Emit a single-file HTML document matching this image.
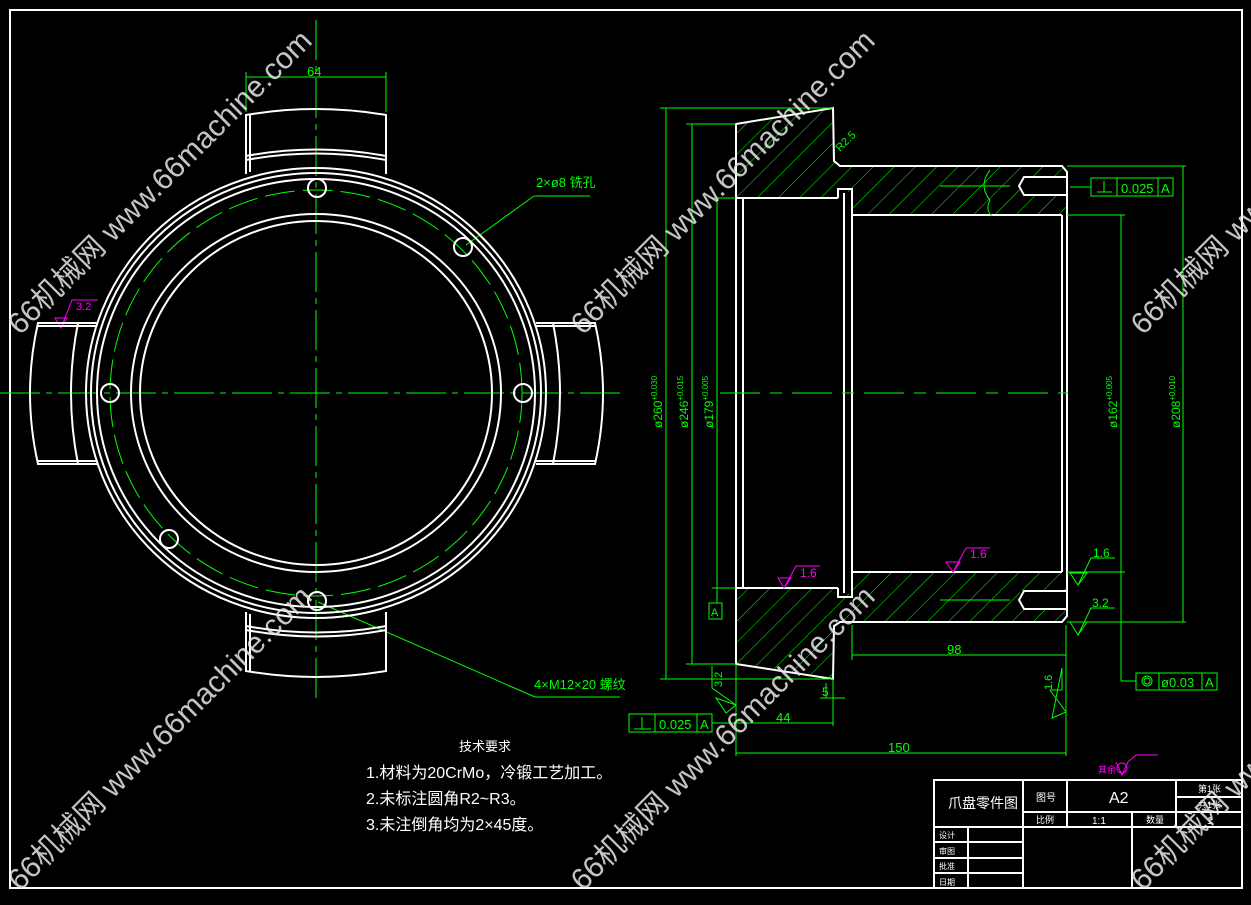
<!DOCTYPE html>
<html><head><meta charset="utf-8"><style>
html,body{margin:0;padding:0;background:#000;width:1251px;height:905px;overflow:hidden}
svg{display:block}
text{font-family:"Liberation Sans","Noto Sans CJK SC",sans-serif}
</style></head><body>
<svg width="1251" height="905" viewBox="0 0 1251 905" xmlns="http://www.w3.org/2000/svg">
<defs>
<pattern id="h" patternUnits="userSpaceOnUse" width="15" height="15" patternTransform="rotate(45)">
<line x1="0" y1="0" x2="0" y2="15" stroke="#0f0" stroke-width="1"/>
</pattern>
</defs>
<rect width="1251" height="905" fill="#000"/>
<rect x="10" y="10" width="1232" height="878" fill="none" stroke="#fff" stroke-width="2"/>

<!-- ===== LEFT VIEW ===== -->
<g stroke="#0f0" stroke-width="1" fill="none">
<line x1="0" y1="393" x2="620" y2="393" stroke-dasharray="40,6,6,6"/>
<line x1="316" y1="20" x2="316" y2="700" stroke-dasharray="40,6,6,6"/>
<ellipse cx="316" cy="393" rx="206" ry="203" stroke-dasharray="30,8"/>
<line x1="246" y1="72" x2="246" y2="112"/><line x1="386" y1="72" x2="386" y2="112"/>
<line x1="246" y1="77" x2="386" y2="77"/>
<line x1="466" y1="245" x2="534" y2="196"/><line x1="534" y1="196" x2="590" y2="196"/>
<line x1="318" y1="602" x2="535" y2="697"/><line x1="535" y1="697" x2="620" y2="697"/>
</g>
<text x="307" y="76" fill="#0f0" font-size="13">64</text>
<text x="536" y="187" fill="#0f0" font-size="13">2×ø8 铣孔</text>
<text x="534" y="689" fill="#0f0" font-size="13">4×M12×20 螺纹</text>
<g stroke="#f0f" stroke-width="1" fill="none"><path d="M55,318 L67,318 L61,328 Z"/><path d="M61,328 L72,300 L98,300"/></g>
<text x="76" y="310" fill="#f0f" font-size="11">3.2</text>

<g stroke="#fff" stroke-width="2" fill="none">
<ellipse cx="316" cy="393" rx="230" ry="225"/>
<ellipse cx="316" cy="393" rx="225" ry="220"/>
<ellipse cx="316" cy="393" rx="219" ry="214"/>
<ellipse cx="316" cy="393" rx="185" ry="179"/>
<ellipse cx="316" cy="393" rx="176" ry="172"/>
<circle cx="317" cy="188" r="9"/><circle cx="523" cy="393" r="9"/><circle cx="110" cy="393" r="9"/>
<circle cx="317" cy="601" r="9"/><circle cx="463" cy="247" r="9"/><circle cx="169" cy="539" r="9"/>
<path d="M246,174 L246,115 Q316,103 386,115 L386,174"/>
<line x1="250" y1="115" x2="250" y2="172"/>
<path d="M246,156 Q316,143 386,156"/><path d="M246,160 Q316,147 386,160"/>
<path d="M246,612 L246,671 Q316,683 386,671 L386,612"/>
<line x1="250" y1="614" x2="250" y2="671"/>
<path d="M246,630 Q316,643 386,630"/><path d="M246,626 Q316,639 386,626"/>
<path d="M97,323 L38,323 Q22,393 38,464 L97,464"/>
<line x1="38" y1="326" x2="97" y2="326"/><line x1="38" y1="461" x2="97" y2="461"/>
<path d="M78,323 Q64,393 78,464"/>
<path d="M536,323 L595,323 Q611,393 595,464 L536,464"/>
<line x1="536" y1="326" x2="595" y2="326"/><line x1="536" y1="461" x2="595" y2="461"/>
<path d="M553,323 Q567,393 553,464"/>
</g>

<!-- ===== SECTION VIEW ===== -->
<g fill="url(#h)">
<path d="M736,124 L833,108 L835,163 L840,166 L1062,166 L1067,172 L1067,215 L852,215 L852,193 L838,189 L838,198 L736,198 Z"/>
<path d="M736,588 L838,588 L838,597 L852,593 L852,572 L1067,572 L1067,616 L1062,622 L840,622 L835,624 L833,679 L736,664 Z"/>
</g>
<rect x="1020" y="177" width="47" height="18" fill="#000"/><rect x="1020" y="591" width="47" height="18" fill="#000"/>
<g stroke="#fff" stroke-width="2" fill="none">
<path d="M736,124 L833,108 L834,161 L840,166 L1062,166 L1067,172 L1067,616 L1062,622 L840,622 L834,626 L833,679 L736,664 Z"/>
<line x1="736" y1="198" x2="838" y2="198"/><line x1="736" y1="588" x2="838" y2="588"/>
<line x1="743" y1="198" x2="743" y2="588"/>
<path d="M838,198 L838,189 L852,189 L852,597 L838,597 L838,588"/>
<line x1="844" y1="193" x2="844" y2="593"/>
<line x1="852" y1="215" x2="1062" y2="215"/><line x1="852" y1="572" x2="1062" y2="572"/>
<line x1="1062" y1="215" x2="1062" y2="572"/>
<path d="M1067,177 L1024,177 L1019,186 L1024,195 L1067,195"/>
<path d="M1067,591 L1024,591 L1019,600 L1024,609 L1067,609"/>
</g>
<g stroke="#0f0" stroke-width="1" fill="none">
<line x1="720" y1="393" x2="1068" y2="393" stroke-dasharray="40,10,12,10"/>
<line x1="940" y1="186" x2="1010" y2="186"/><line x1="940" y1="600" x2="1010" y2="600"/>
<path d="M990,170 Q978,186 990,200 Q985,210 992,216"/>
<line x1="666" y1="108" x2="666" y2="679"/><line x1="660" y1="108" x2="833" y2="108"/><line x1="660" y1="679" x2="833" y2="679"/>
<line x1="692" y1="124" x2="692" y2="664"/><line x1="686" y1="124" x2="736" y2="124"/><line x1="686" y1="664" x2="736" y2="664"/>
<line x1="717" y1="198" x2="717" y2="588"/><line x1="712" y1="198" x2="736" y2="198"/><line x1="712" y1="588" x2="736" y2="588"/>
<line x1="717" y1="588" x2="717" y2="603"/><rect x="709" y="603" width="13" height="16"/>
<line x1="1121" y1="215" x2="1121" y2="572"/><line x1="1067" y1="215" x2="1125" y2="215"/><line x1="1067" y1="572" x2="1125" y2="572"/>
<line x1="1183" y1="166" x2="1183" y2="622"/><line x1="1067" y1="166" x2="1186" y2="166"/><line x1="1067" y1="622" x2="1186" y2="622"/>
<line x1="1121" y1="572" x2="1121" y2="681"/><line x1="1121" y1="681" x2="1136" y2="681"/>
<rect x="1136" y="673" width="81" height="17"/><line x1="1159" y1="673" x2="1159" y2="690"/><line x1="1202" y1="673" x2="1202" y2="690"/>
<circle cx="1147" cy="681" r="5"/><circle cx="1147" cy="681" r="3"/>
<line x1="1070" y1="187" x2="1091" y2="187"/>
<rect x="1091" y="178" width="82" height="18"/><line x1="1117" y1="178" x2="1117" y2="196"/><line x1="1158" y1="178" x2="1158" y2="196"/>
<line x1="1097" y1="192" x2="1112" y2="192"/><line x1="1104" y1="181" x2="1104" y2="192"/>
<line x1="852" y1="625" x2="852" y2="660"/><line x1="1066" y1="625" x2="1066" y2="756"/>
<line x1="852" y1="655" x2="1066" y2="655"/>
<line x1="736" y1="664" x2="736" y2="756"/><line x1="833" y1="679" x2="833" y2="726"/>
<line x1="736" y1="723" x2="833" y2="723"/>
<line x1="736" y1="753" x2="1066" y2="753"/>
<line x1="820" y1="698" x2="845" y2="698"/><line x1="826" y1="683" x2="826" y2="698"/>
<line x1="712" y1="723" x2="736" y2="723"/>
<rect x="629" y="714" width="83" height="18"/><line x1="655" y1="714" x2="655" y2="732"/><line x1="697" y1="714" x2="697" y2="732"/>
<line x1="634" y1="729" x2="651" y2="729"/><line x1="642" y1="717" x2="642" y2="729"/>
<path d="M712,666 L712,688 L736,705 M716,698 L736,705 L726,713 Z"/>
<path d="M1062,668 L1062,690 L1050,690 L1066,712 L1052,718 Z"/>
<path d="M1070,573 L1087,573 L1078,585 Z M1078,585 L1091,558 L1115,558"/>
<path d="M1070,622 L1087,622 L1078,635 Z M1078,635 L1091,608 L1115,608"/>
</g>
<g fill="#0f0" font-size="12">
<text transform="translate(662,428) rotate(-90)">ø260<tspan font-size="8" dy="-5">+0.030</tspan></text>
<text transform="translate(688,428) rotate(-90)">ø246<tspan font-size="8" dy="-5">+0.015</tspan></text>
<text transform="translate(713,428) rotate(-90)">ø179<tspan font-size="8" dy="-5">+0.005</tspan></text>
<text transform="translate(1117,428) rotate(-90)">ø162<tspan font-size="8" dy="-5">+0.005</tspan></text>
<text transform="translate(1180,428) rotate(-90)">ø208<tspan font-size="8" dy="-5">+0.010</tspan></text>
<text x="947" y="654" font-size="13">98</text>
<text x="776" y="722" font-size="13">44</text>
<text x="888" y="752" font-size="13">150</text>
<text x="822" y="696" font-size="12">5</text>
<text x="711" y="616" font-size="11">A</text>
<text x="1121" y="193" font-size="13">0.025</text><text x="1161" y="193" font-size="13">A</text>
<text x="659" y="729" font-size="13">0.025</text><text x="700" y="729" font-size="13">A</text>
<text x="1161" y="687" font-size="13">ø0.03</text><text x="1205" y="687" font-size="13">A</text>
<text x="1093" y="557" font-size="12">1.6</text><text x="1092" y="607" font-size="12">3.2</text>
<text transform="translate(722,687) rotate(-90)" font-size="11">3.2</text>
<text transform="translate(1052,690) rotate(-90)" font-size="11">1.6</text>
<text transform="translate(840,152) rotate(-45)" font-size="11">R2.5</text>
</g>
<g stroke="#f0f" stroke-width="1" fill="none">
<path d="M778,578 L791,578 L784,588 Z M784,588 L796,566 L820,566"/>
<path d="M946,562 L960,562 L953,572 Z M953,572 L966,548 L990,548"/>
<path d="M1116,762 L1122,775 L1128,762 M1128,762 L1136,755 L1158,755"/><circle cx="1122" cy="768" r="5"/>
</g>
<text x="800" y="577" fill="#f0f" font-size="12">1.6</text>
<text x="970" y="558" fill="#f0f" font-size="12">1.6</text>
<text x="1098" y="773" fill="#f0f" font-size="9">其余</text>

<g fill="#fff">
<text x="459" y="751" font-size="13">技术要求</text>
<text x="366" y="778" font-size="16">1.材料为20CrMo，冷锻工艺加工。</text>
<text x="366" y="804" font-size="16">2.未标注圆角R2~R3。</text>
<text x="366" y="830" font-size="16">3.未注倒角均为2×45度。</text>
</g>

<g stroke="#fff" stroke-width="2" fill="none">
<rect x="934" y="780" width="308" height="108"/>
<line x1="934" y1="827" x2="1242" y2="827"/>
<line x1="1023" y1="780" x2="1023" y2="888"/>
<line x1="1023" y1="812" x2="1242" y2="812"/>
<line x1="1067" y1="780" x2="1067" y2="827"/>
<line x1="1132" y1="812" x2="1132" y2="888"/>
<line x1="1176" y1="780" x2="1176" y2="827"/>
<line x1="1176" y1="797" x2="1242" y2="797"/>
<line x1="968" y1="827" x2="968" y2="888"/>
<line x1="934" y1="842" x2="1023" y2="842"/><line x1="934" y1="858" x2="1023" y2="858"/><line x1="934" y1="873" x2="1023" y2="873"/>
</g>
<g fill="#fff">
<text x="948" y="808" font-size="14">爪盘零件图</text>
<text x="1036" y="801" font-size="10">图号</text>
<text x="1109" y="803" font-size="16">A2</text>
<text x="1198" y="792" font-size="9">第1张</text><text x="1198" y="808" font-size="9">共1张</text>
<text x="1036" y="823" font-size="9">比例</text>
<text x="1092" y="824" font-size="10">1:1</text>
<text x="1146" y="823" font-size="9">数量</text>
<text x="1207" y="824" font-size="10">1</text>
<text x="939" y="838" font-size="8">设计</text><text x="939" y="854" font-size="8">审图</text>
<text x="939" y="869" font-size="8">批准</text><text x="939" y="885" font-size="8">日期</text>
</g>

<g fill="#e6e6e6" fill-opacity="0.85" font-size="30">
<text transform="translate(20,336) rotate(-45)">66机械网 www.66machine.com</text>
<text transform="translate(583,336) rotate(-45)">66机械网 www.66machine.com</text>
<text transform="translate(1143,336) rotate(-45)">66机械网 www.66machine.com</text>
<text transform="translate(20,892) rotate(-45)">66机械网 www.66machine.com</text>
<text transform="translate(583,892) rotate(-45)">66机械网 www.66machine.com</text>
<text transform="translate(1143,892) rotate(-45)">66机械网 www.66machine.com</text>
</g>
</svg>
</body></html>
